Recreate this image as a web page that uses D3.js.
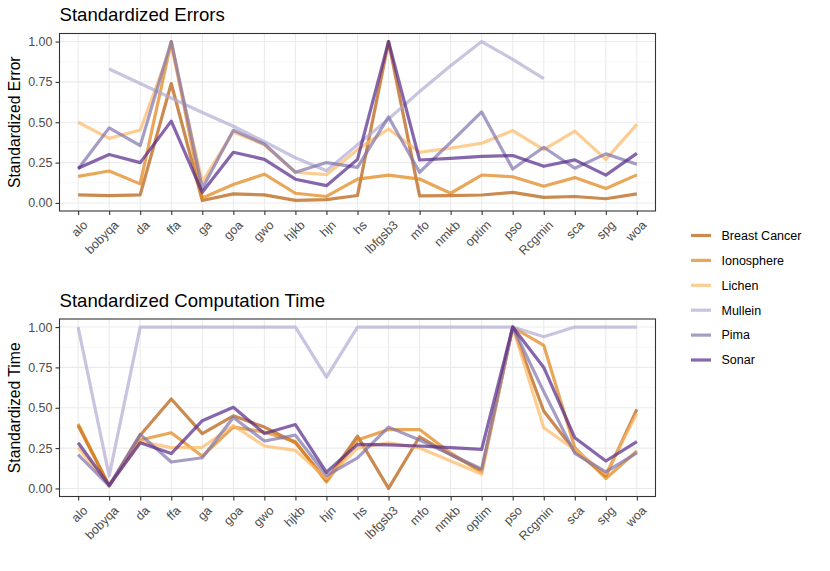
<!DOCTYPE html>
<html>
<head>
<meta charset="utf-8">
<script src="https://cdn.jsdelivr.net/npm/d3@7"></script>
<style>
  body { margin: 0; background: #fff; }
  svg { font-family: "Liberation Sans", Arial, sans-serif; }
  .grid line { stroke: #ebebeb; }
  .grid .minor { stroke: #f5f5f5; }
  .tick text { fill: #4d4d4d; }
</style>
</head>
<body>
<svg id="chart" width="830" height="571"></svg>
<script>
var algorithms = ["alo", "bobyqa", "da", "ffa", "ga", "goa", "gwo", "hjkb", "hjn", "hs",
  "lbfgsb3", "mfo", "nmkb", "optim", "pso", "Rcgmin", "sca", "spg", "woa"];
var datasets = ["Breast Cancer", "Ionosphere", "Lichen", "Mullein", "Pima", "Sonar"];
var colors = ["#b35806", "#e08214", "#fdb863", "#b2abd2", "#8073ac", "#542788"];
var yTicks = [0, 0.25, 0.5, 0.75, 1];

// standardized errors, one array per dataset (null = missing)
var errBreast  = [0.05, 0.045, 0.05, 0.74, 0.015, 0.056, 0.05, 0.016, 0.02, 0.046, 1.0, 0.044, 0.045, 0.049, 0.065, 0.034, 0.04, 0.026, 0.056];
var errIono    = [0.165, 0.198, 0.118, 1.0, 0.03, 0.114, 0.178, 0.06, 0.04, 0.148, 0.172, 0.148, 0.06, 0.173, 0.162, 0.103, 0.157, 0.09, 0.174];
var errLichen  = [0.50, 0.40, 0.452, 0.97, 0.13, 0.44, 0.36, 0.19, 0.175, 0.33, 0.458, 0.314, 0.34, 0.37, 0.448, 0.33, 0.445, 0.27, 0.487];
var errMullein = [null, 0.83, 0.74, 0.65, 0.56, 0.475, 0.38, 0.28, 0.2, 0.36, 0.52, 0.69, 0.85, 1.0, 0.89, 0.77, null, null, null];
var errPima    = [0.21, 0.465, 0.355, 1.0, 0.09, 0.45, 0.365, 0.19, 0.25, 0.22, 0.533, 0.19, 0.375, 0.564, 0.21, 0.345, 0.215, 0.304, 0.24];
var errSonar   = [0.215, 0.30, 0.25, 0.507, 0.066, 0.314, 0.27, 0.147, 0.107, 0.27, 1.0, 0.266, 0.276, 0.288, 0.294, 0.227, 0.267, 0.172, 0.307];

// standardized computation time
var timeBreast  = [0.39, 0.016, 0.33, 0.554, 0.34, 0.45, 0.38, 0.283, 0.05, 0.324, 0.0, 0.32, 0.21, 0.11, 1.0, 0.48, 0.232, 0.078, 0.49];
var timeIono    = [0.40, 0.016, 0.30, 0.345, 0.20, 0.38, 0.35, 0.29, 0.04, 0.30, 0.365, 0.365, 0.22, 0.10, 1.0, 0.887, 0.253, 0.062, 0.232];
var timeLichen  = [0.253, 0.016, 0.29, 0.253, 0.255, 0.39, 0.263, 0.236, 0.06, 0.25, 0.283, 0.25, 0.17, 0.09, 1.0, 0.376, 0.24, 0.09, 0.465];
var timeMullein = [1.0, 0.078, 1.0, 1.0, 1.0, 1.0, 1.0, 1.0, 0.69, 1.0, 1.0, 1.0, 1.0, 1.0, 1.0, 0.94, 1.0, 1.0, 1.0];
var timePima    = [0.21, 0.016, 0.335, 0.164, 0.19, 0.44, 0.294, 0.33, 0.08, 0.19, 0.38, 0.30, 0.21, 0.12, 1.0, 0.60, 0.218, 0.103, 0.22];
var timeSonar   = [0.283, 0.02, 0.283, 0.216, 0.42, 0.503, 0.34, 0.396, 0.10, 0.273, 0.27, 0.263, 0.253, 0.242, 1.0, 0.75, 0.314, 0.17, 0.29];

var errSeries = [errBreast, errIono, errLichen, errMullein, errPima, errSonar];
var timeSeries = [timeBreast, timeIono, timeLichen, timeMullein, timePima, timeSonar];

var svg = d3.select("#chart");
var left = 59.5, right = 655.5;

var x = d3.scalePoint()
    .domain(algorithms)
    .range([left, right])
    .padding(0.6);

function panel(title, yTitle, series, top, bottom) {
  var y = d3.scaleLinear()
      .domain([-0.05, 1.05])
      .range([bottom, top]);

  var g = svg.append("g");

  // grid
  var grid = g.append("g").attr("class", "grid");
  var minor = d3.range(yTicks.length - 1).map(function(i) { return (yTicks[i] + yTicks[i + 1]) / 2; });
  grid.selectAll("line.minor").data(minor).enter().append("line")
      .attr("class", "minor")
      .attr("x1", left).attr("x2", right)
      .attr("y1", y).attr("y2", y)
      .attr("stroke-width", 0.6);
  grid.selectAll("line.majory").data(yTicks).enter().append("line")
      .attr("class", "majory")
      .attr("x1", left).attr("x2", right)
      .attr("y1", y).attr("y2", y)
      .attr("stroke-width", 1.1);
  grid.selectAll("line.majorx").data(algorithms).enter().append("line")
      .attr("class", "majorx")
      .attr("x1", x).attr("x2", x)
      .attr("y1", top).attr("y2", bottom)
      .attr("stroke-width", 1.1);

  // lines
  var line = d3.line()
      .defined(function(d) { return d != null; })
      .x(function(d, i) { return x(algorithms[i]); })
      .y(function(d) { return y(d); });

  g.selectAll("path.serie")
    .data(series)
    .enter().append("path")
      .attr("class", "serie")
      .attr("fill", "none")
      .attr("stroke", function(d, i) { return colors[i]; })
      .attr("stroke-opacity", 0.7)
      .attr("stroke-width", 3.2)
      .attr("stroke-linejoin", "round")
      .attr("d", line);

  // border
  g.append("rect")
      .attr("x", left).attr("y", top)
      .attr("width", right - left).attr("height", bottom - top)
      .attr("fill", "none")
      .attr("stroke", "#333333")
      .attr("stroke-width", 1.1);

  // y axis
  var ya = g.append("g")
      .attr("transform", "translate(" + left + ",0)")
      .call(d3.axisLeft(y).tickValues(yTicks).tickFormat(d3.format(".2f")).tickSize(4).tickPadding(3));
  ya.select(".domain").remove();
  ya.selectAll(".tick line").attr("stroke", "#333333").attr("stroke-width", 1.1);
  ya.selectAll(".tick text").style("font-size", "12.5px");

  // x axis
  var xa = g.append("g")
      .attr("transform", "translate(0," + bottom + ")")
      .call(d3.axisBottom(x).tickSize(4));
  xa.select(".domain").remove();
  xa.selectAll(".tick line").attr("stroke", "#333333").attr("stroke-width", 1.1);
  xa.selectAll(".tick text")
      .style("font-size", "12.5px")
      .attr("text-anchor", "end")
      .attr("dy", null)
      .attr("y", 0)
      .attr("transform", "translate(3.5,8.5) rotate(-45)")
      .attr("dominant-baseline", "hanging");

  // titles
  g.append("text")
      .attr("x", left)
      .attr("y", top - 12.5)
      .style("font-size", "18.6px")
      .attr("fill", "#000")
      .text(title);

  g.append("text")
      .attr("transform", "translate(20," + ((top + bottom) / 2) + ") rotate(-90)")
      .attr("text-anchor", "middle")
      .style("font-size", "15.7px")
      .attr("fill", "#000")
      .text(yTitle);
}

panel("Standardized Errors", "Standardized Error", errSeries, 33.5, 211);
panel("Standardized Computation Time", "Standardized Time", timeSeries, 319, 496.5);

// legend
var legend = svg.selectAll(".legend")
  .data(datasets)
  .enter().append("g")
    .attr("class", "legend")
    .attr("transform", function(d, i) { return "translate(0," + (235.5 + i * 24.9) + ")"; });

legend.append("line")
    .attr("x1", 691).attr("x2", 711)
    .attr("stroke", function(d, i) { return colors[i]; })
    .attr("stroke-opacity", 0.7)
    .attr("stroke-width", 3.2);

legend.append("text")
    .attr("x", 721.5)
    .attr("dy", "0.35em")
    .style("font-size", "12.5px")
    .attr("fill", "#000")
    .text(function(d) { return d; });
</script>
</body>
</html>
